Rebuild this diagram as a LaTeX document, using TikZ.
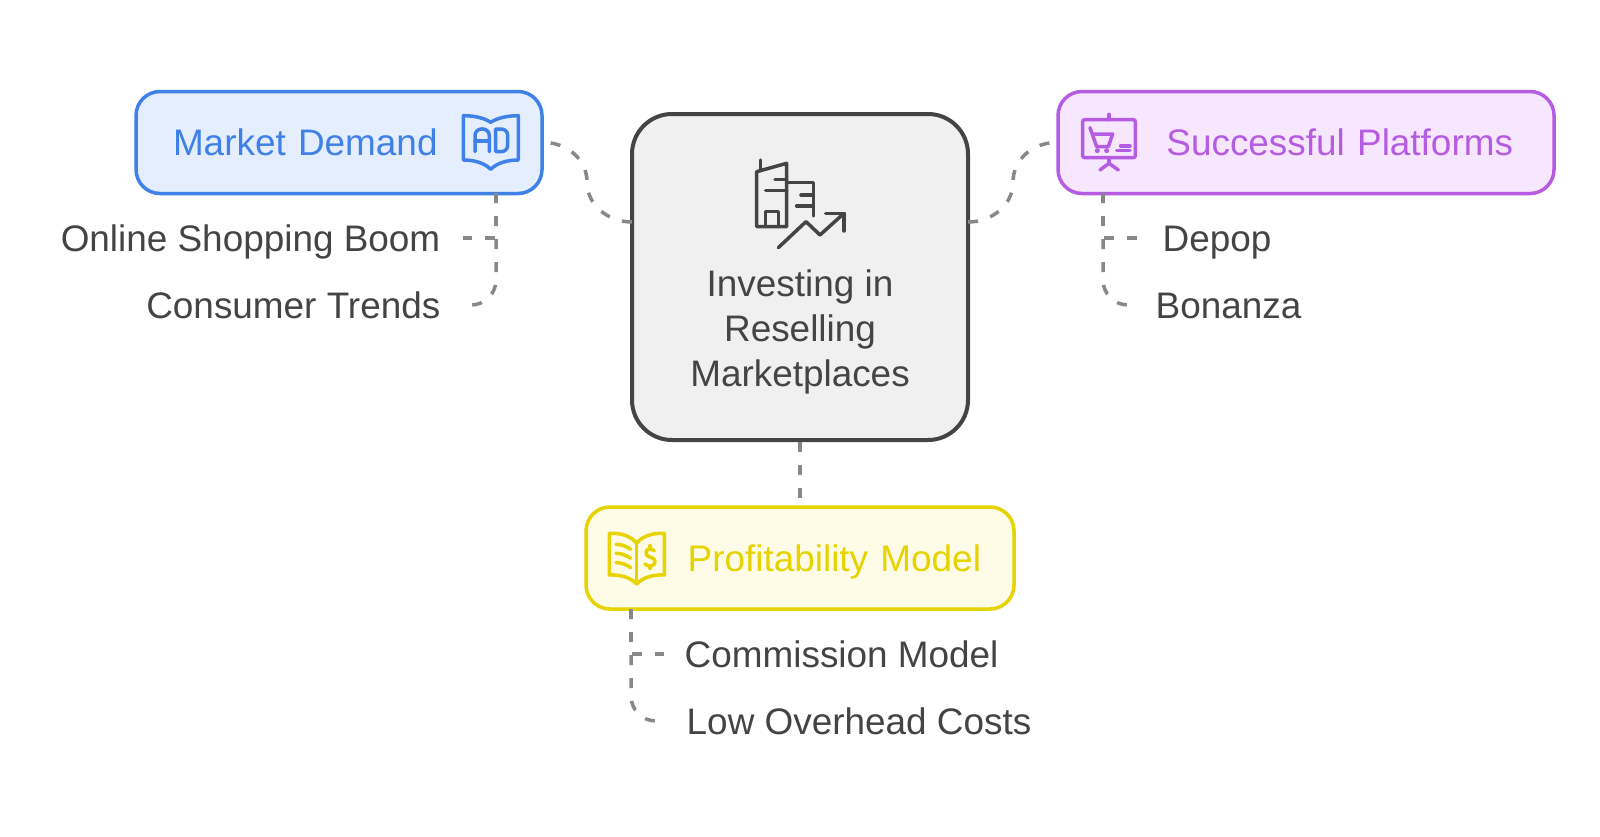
\documentclass[tikz,border=0pt]{standalone}
\usepackage{fontspec}
\setmainfont{Liberation Sans}
\usetikzlibrary{positioning}
\definecolor{cblue}{HTML}{3F81E8}
\definecolor{cbluefill}{HTML}{E4EEFE}
\definecolor{cpurple}{HTML}{B65CE2}
\definecolor{cpurplefill}{HTML}{F7E7FE}
\definecolor{cyellow}{HTML}{E6D300}
\definecolor{cyellowfill}{HTML}{FEFBE6}
\definecolor{cgrey}{HTML}{444444}
\definecolor{clink}{HTML}{888888}
\tikzset{
  every picture/.style={font=\fontsize{10.5}{12.8}\selectfont, line join=round},
  box/.style={draw=#1, text=#1, line width=.035cm, rounded corners=.24cm, inner xsep=.37cm,
    minimum height=1.02cm, text height=.26cm, text depth=0cm},
  leaf/.style={text=cgrey, inner xsep=.22cm, inner ysep=0pt, text height=.26cm, text depth=0cm},
  link/.style={draw=clink, line width=.035cm, dash pattern=on .1cm off .13cm},
  icon/.style={draw=#1, line width=.035cm, line cap=round},
}

\begin{document}
\begin{tikzpicture}
  \useasboundingbox (0,0) rectangle (16,8.36);
  % main box
  \node[draw=cgrey, fill=black!6, line width=.04cm, rounded corners=.4cm, minimum width=3.36cm, minimum height=3.26cm] (invest) at (8,5.59) {};
  \node[text=cgrey, align=center, inner sep=0pt] (investlabel) at (8,5.04) {Investing in\\Reselling\\Marketplaces};
  % topic boxes
  \node[box=cblue, fill=cbluefill, text width=3.32cm, align=left] (market) at (3.39,6.935) {Market Demand};
  \node[box=cpurple, fill=cpurplefill, text width=4.14cm, inner xsep=.41cm, align=right] (platforms) at (13.06,6.935) {Successful Platforms};
  \node[box=cyellow, fill=cyellowfill, text width=3.62cm, inner xsep=.33cm, align=right] (profit) at (8,2.78) {Profitability Model};
  % leaves
  \node[leaf, anchor=east] (online) at (4.63,5.98) {Online Shopping Boom};
  \node[leaf, anchor=east] (consumer) at (4.63,5.31) {Consumer Trends};
  \node[leaf, anchor=west, inner xsep=.25cm] (depop) at (11.37,5.98) {Depop};
  \node[leaf, anchor=west, inner xsep=.18cm] (bonanza) at (11.37,5.31) {Bonanza};
  \node[leaf, anchor=west, inner xsep=.2cm] (commission) at (6.64,1.82) {Commission Model};
  \node[leaf, anchor=west] (lowcost) at (6.64,1.15) {Low Overhead Costs};
  % connectors
  \coordinate (hubleft) at (6.32,6.14);
  \coordinate (hubright) at (9.68,6.14);
  \coordinate (midleft) at (5.87,6.54);
  \coordinate (midright) at (10.13,6.54);
  \coordinate (mdrop) at (4.96,6.43);
  \coordinate (sdrop) at (11.03,6.43);
  \coordinate (pdrop) at (6.31,2.27);
  \draw[link] (hubleft) to[out=180,in=-90] (midleft) to[out=90,in=0] (market.east);
  \draw[link] (hubright) to[out=0,in=-90] (midright) to[out=90,in=180] (platforms.west);
  \draw[link] (invest.south) -- (profit.north);
  \foreach \d/\s/\t in {mdrop/online.east/consumer.east, sdrop/depop.west/bonanza.west, pdrop/commission.west/lowcost.west} {
    \draw[link] (\d) |- (\s);
    \draw[link, rounded corners=.25cm] (\d) |- (\t);
  }
  % building and rising arrow
  \begin{scope}[shift={(6.2,7.36)}, x=1cm/300, y=-1cm/300, icon=cgrey]
    \draw (421,180) -- (421,212);
    \draw (410,215) -- (500,190) -- (500,380) -- (410,380) -- cycle;
    \draw (465,238) -- (500,238) (437,272) -- (500,272);
    \draw (437,378) -- (437,335) -- (475,335) -- (475,378);
    \draw (500,248) -- (580,248) -- (580,348);
    \draw (543,285) -- (580,285) (530,318) -- (580,318);
    \draw (475,443) -- (558,365) -- (600,405) -- (672,340);
    \draw (617,340) -- (672,340) -- (672,393);
  \end{scope}
  % book with AD
  \begin{scope}[shift={(4.4,7.51)}, x=1cm/300, y=-1cm/300, icon=cblue]
    \draw (70,92) .. controls (105,92) and (135,100) .. (152,112) .. controls (170,100) and (200,92) .. (235,92) -- (235,225) .. controls (200,225) and (170,235) .. (152,253) .. controls (135,235) and (105,225) .. (70,225) -- cycle;
    \draw (105,200) -- (105,152) .. controls (105,125) and (148,125) .. (148,152) -- (148,200);
    \draw (105,168) -- (148,168);
    \draw (167,132) -- (183,132) .. controls (195,132) and (203,140) .. (203,152) -- (203,180) .. controls (203,192) and (195,200) .. (183,200) -- (167,200) -- cycle;
  \end{scope}
  % presentation board with cart
  \begin{scope}[shift={(9.6,7.51)}, x=1cm/300, y=-1cm/300, icon=cpurple]
    \draw[rounded corners=.02cm] (368,104) rectangle (526,218);
    \draw (447,88) -- (447,104) (447,218) -- (447,235);
    \draw (420,255) -- (447,235) -- (475,255);
    \draw (390,128) -- (410,185) -- (445,185) -- (458,147) -- (398,147);
    \fill[cpurple] (412,197) circle (.025cm) (440,197) circle (.025cm);
    \draw (482,183) -- (510,183) (470,196) -- (510,196);
  \end{scope}
  % book with dollar
  \begin{scope}[shift={(5.8,4.06)}, x=1cm/300, y=-1cm/300, icon=cyellow]
    \draw (88,310) .. controls (125,308) and (155,320) .. (170,340) .. controls (185,320) and (215,308) .. (253,310) -- (253,435) .. controls (215,433) and (185,445) .. (170,462) .. controls (155,445) and (125,433) .. (88,435) -- cycle;
    \draw (170,340) -- (170,460);
    \foreach \y in {343,370,398} \draw (108,\y) .. controls (125,\y) and (140,\y+6) .. (152,\y+15);
    \draw (223,362) .. controls (205,350) and (193,362) .. (200,375) .. controls (207,385) and (225,380) .. (225,395) .. controls (225,410) and (205,412) .. (195,402);
    \draw (210,347) -- (210,356) (210,408) -- (210,415);
  \end{scope}
\end{tikzpicture}
\end{document}
